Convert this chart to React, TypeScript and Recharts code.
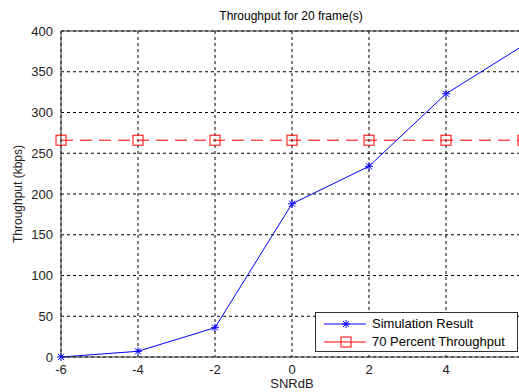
import React from 'react'
import { LineChart, Line, XAxis, YAxis, CartesianGrid, ReferenceLine, Legend } from 'recharts'

const snr = [-6, -4, -2, 0, 2, 4, 6]
const simulation = [0, 7, 36, 188, 234, 323, 382]
const target70 = [266, 266, 266, 266, 266, 266, 266]
const xTicks = [-6, -4, -2, 0, 2, 4]
const yTicks = [0, 50, 100, 150, 200, 250, 300, 350, 400]

const data = snr.map((x, i) => ({ x, sim: simulation[i], pct: target70[i] }))

const FONT = '"Liberation Sans", Arial, sans-serif'
const BLUE = '#0000ff'
const RED = '#ff0000'

const Star = (p: any) => {
  const { cx, cy } = p
  if (cx == null || cy == null) return null
  const r = 4
  return (
    <g stroke={BLUE} strokeWidth={1}>
      <line x1={cx - r} y1={cy} x2={cx + r} y2={cy} />
      <line x1={cx} y1={cy - r} x2={cx} y2={cy + r} />
      <line x1={cx - 3} y1={cy - 3} x2={cx + 3} y2={cy + 3} />
      <line x1={cx - 3} y1={cy + 3} x2={cx + 3} y2={cy - 3} />
    </g>
  )
}

const Square = (p: any) => {
  const { cx, cy } = p
  if (cx == null || cy == null) return null
  return <rect x={cx - 5} y={cy - 5} width={10} height={10} fill="none" stroke={RED} strokeWidth={1} />
}

const LegendBox = () => (
  <div style={{ position: 'absolute', left: 315, top: 312, width: 201, height: 38, background: '#fff', border: '1px solid #333', fontFamily: FONT, fontSize: 13, color: '#000' }}>
    <svg width={50} height={38} style={{ position: 'absolute', left: 0, top: 0 }}>
      <line x1={8} y1={11} x2={50} y2={11} stroke={BLUE} />
      <Star cx={30} cy={11} />
      <line x1={8} y1={29} x2={50} y2={29} stroke={RED} />
      <Square cx={30} cy={29} />
    </svg>
    <div style={{ position: 'absolute', left: 56, top: 3 }}>Simulation Result</div>
    <div style={{ position: 'absolute', left: 56, top: 21 }}>70 Percent Throughput</div>
  </div>
)

export default function App() {
  return (
    <div style={{ position: 'fixed', left: 0, top: 0, width: 519, height: 392, overflow: 'hidden', background: '#fff' }}>
      <div style={{ position: 'absolute', left: 191, top: 9, width: 200, textAlign: 'center', fontFamily: FONT, fontSize: 12, color: '#000' }}>
        Throughput for 20 frame(s)
      </div>
      <LineChart width={540} height={392} data={data} margin={{ top: 31, right: 17, left: 0, bottom: 0 }}>
        <CartesianGrid stroke="#000" strokeDasharray="3 3" strokeWidth={1} />
        <XAxis
          dataKey="x"
          type="number"
          domain={[-6, 6]}
          ticks={xTicks}
          height={35}
          stroke="#333"
          tickLine={false}
          tick={{ fill: '#222', fontSize: 13, fontFamily: FONT }}
          label={{ value: 'SNRdB', position: 'insideBottom', offset: 4, fill: '#222', fontSize: 13, fontFamily: FONT }}
        />
        <YAxis
          type="number"
          domain={[0, 400]}
          ticks={yTicks}
          width={61}
          stroke="#333"
          tickLine={false}
          tick={{ fill: '#222', fontSize: 13, fontFamily: FONT }}
          label={{ value: 'Throughput (kbps)', angle: -90, position: 'insideLeft', offset: 18, fill: '#222', fontSize: 12, fontFamily: FONT, style: { textAnchor: 'middle' } }}
        />
        <ReferenceLine y={400} stroke="#333" />
        <ReferenceLine x={6} stroke="#333" />
        <Line dataKey="pct" stroke={RED} strokeDasharray="12 7" strokeWidth={1} dot={<Square />} isAnimationActive={false} />
        <Line dataKey="sim" stroke={BLUE} strokeWidth={1} dot={<Star />} isAnimationActive={false} />
        <Legend content={() => null} />
      </LineChart>
      <LegendBox />
    </div>
  )
}
